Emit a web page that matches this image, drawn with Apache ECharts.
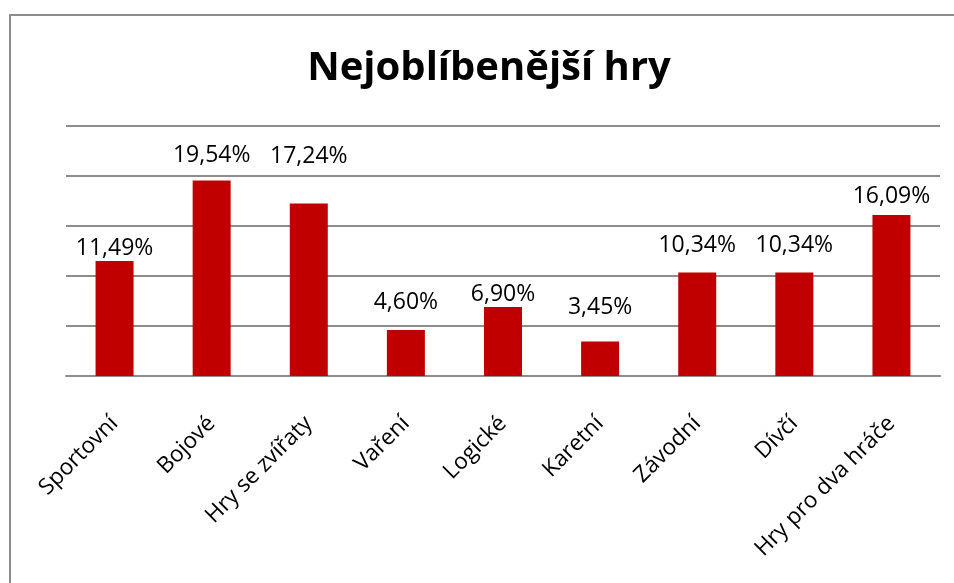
<!DOCTYPE html>
<html><head><meta charset="utf-8">
<script src="https://cdn.jsdelivr.net/npm/echarts@6/dist/echarts.min.js"></script>
<style>html,body{margin:0;padding:0;background:#fff}#c{width:954px;height:583px;position:relative}
#frame{position:absolute;left:9px;top:14px;width:960px;height:600px;border:2px solid #8c8c8c;box-sizing:border-box;pointer-events:none}</style>
</head><body><div id="c"></div><div id="frame"></div>
<script>
const categories = ["Sportovní","Bojové","Hry se zvířaty","Vaření","Logické","Karetní","Závodní","Dívčí","Hry pro dva hráče"];
const values = [11.49,19.54,17.24,4.60,6.90,3.45,10.34,10.34,16.09];
const title = "Nejoblíbenější hry";
// label placement as in the original (style only)
const labelDistances = [1,14,36,16,1,23,16,16,7];
const chart = echarts.init(document.getElementById('c'));
chart.setOption({
  animation:false,
  backgroundColor:'#fff',
  title:{text:title,left:484,textAlign:'center',top:44,textStyle:{fontFamily:'Open Sans',fontWeight:'bold',fontSize:40,color:'#000'}},
  grid:{left:66,right:14,top:126,bottom:207},
  xAxis:{type:'category',data:categories,
    axisLine:{lineStyle:{color:'#8c8c8c',width:2}},axisTick:{show:false},
    axisLabel:{rotate:45,interval:0,margin:44,fontFamily:'Open Sans',fontSize:22.5,color:'#000'}},
  yAxis:{type:'value',min:0,max:25,interval:5,axisLabel:{show:false},axisLine:{show:false},axisTick:{show:false},
    splitLine:{lineStyle:{color:'#8c8c8c',width:2}}},
  series:[{type:'bar',barWidth:38,itemStyle:{color:'#C00000'},
    data:values.map((v,i)=>({value:v,label:{distance:labelDistances[i]}})),
    label:{show:true,position:'top',fontFamily:'Open Sans',fontSize:23,color:'#000',
      formatter:p=>p.value.toFixed(2).replace('.',',')+'%'}}]
});
</script></body></html>
